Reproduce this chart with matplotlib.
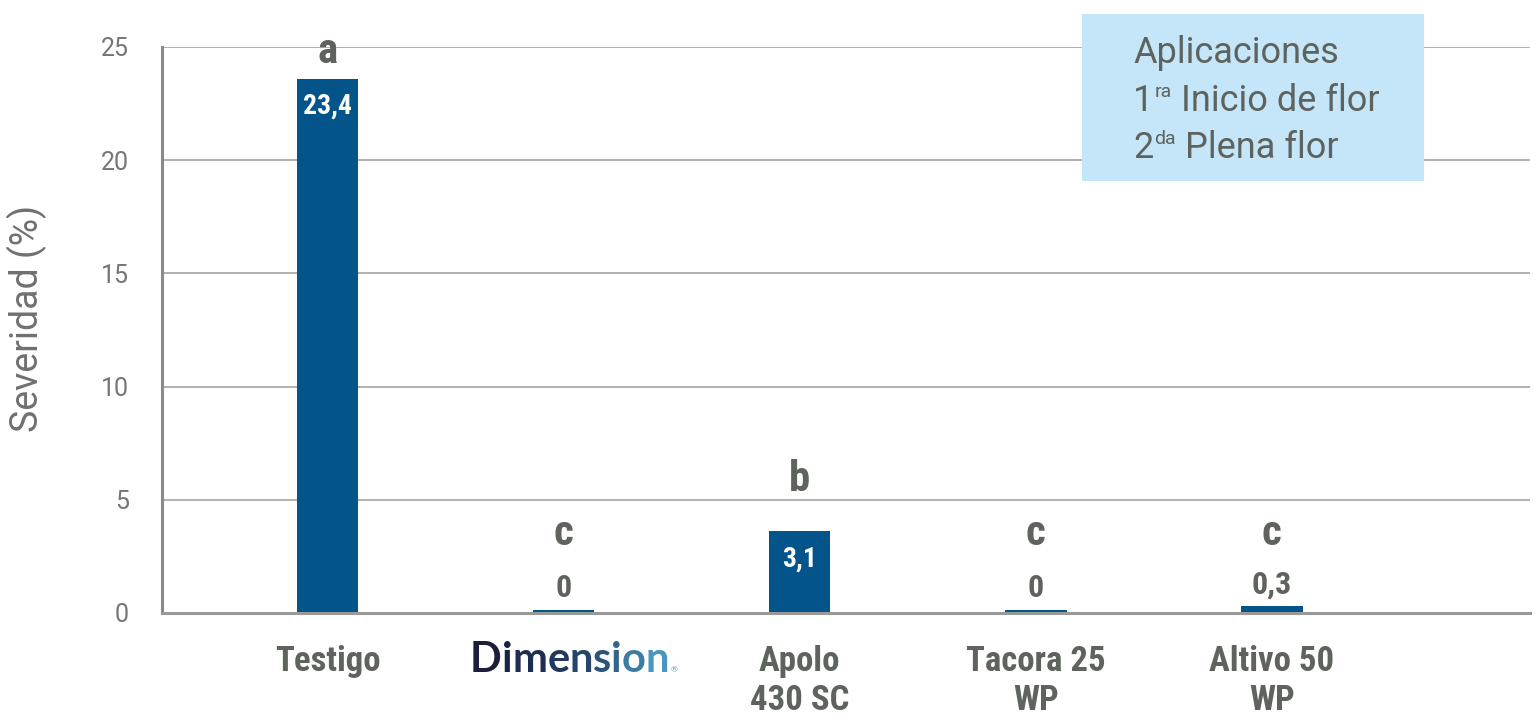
import matplotlib
matplotlib.use("Agg")
import matplotlib.pyplot as plt
import numpy as np
from matplotlib.patches import Rectangle

# ---------------- data ----------------
categories = ["Testigo", "Dimension", "Apolo\n430 SC", "Tacora 25\nWP", "Altivo 50\nWP"]
bar_heights = [23.6, 0.15, 3.6, 0.15, 0.3]          # bar heights as drawn
value_labels = ["23,4", "0", "3,1", "0", "0,3"]
letters = ["a", "c", "b", "c", "c"]
y_ticks = [0, 5, 10, 15, 20, 25]
y_label = "Severidad (%)"
legend_title = "Aplicaciones"
legend_lines = [("1", "ra", " Inicio de flor"), ("2", "da", " Plena flor")]

# ---------------- style ----------------
W, H = 1535, 719
BAR = "#02548A"
TXT = "#5E635E"
TICK = "#767676"
GRID = "#AAAAAA"
COND = ["Liberation Sans Narrow", "Roboto Condensed", "Liberation Sans", "DejaVu Sans"]
LIGHT = ["Roboto", "DejaVu Sans"]
LW = "normal"

fig = plt.figure(figsize=(W / 100, H / 100), dpi=100)
ax = fig.add_axes([162 / W, 1 - 613 / H, (1530 - 162) / W, (613 - 47) / H])

x = np.arange(len(categories))
ax.bar(x, bar_heights, width=0.26, color=BAR, zorder=3)
ax.set_xlim(-0.701, 5.093)
ax.set_ylim(0, 25)

ax.set_yticks(y_ticks)
ax.set_yticklabels([str(t) for t in y_ticks], family=LIGHT, fontweight="normal",
                   fontsize=18, color=TICK)
ax.yaxis.grid(True, color=GRID, lw=1.3, zorder=0)
ax.set_axisbelow(True)
ax.tick_params(axis="y", length=0, pad=24)
ax.tick_params(axis="x", length=0, pad=23)
for s in ["top", "right"]:
    ax.spines[s].set_visible(False)
ax.spines["left"].set_color("#8A8A8A")
ax.spines["left"].set_linewidth(2.2)
ax.spines["bottom"].set_color("#999999")
ax.spines["bottom"].set_linewidth(2.2)
ax.spines["bottom"].set_zorder(4)

ax.set_xticks(x)
ax.set_xticklabels(categories, family=COND, fontweight="bold", fontsize=25,
                   color=TXT, linespacing=1.25, va="top")

fig.text(27 / W, 1 - 318 / H, y_label, rotation=90, ha="center", va="center",
         family=LIGHT, fontweight="normal", fontsize=27, color="#707070")

# value labels
for xi, h, lab in zip(x, bar_heights, value_labels):
    if h > 2:
        ax.annotate(lab, (xi, h), xytext=(0, -10), textcoords="offset points",
                    ha="center", va="top", family=COND, fontweight="bold",
                    fontsize=20, color="white", zorder=5)
    else:
        ax.annotate(lab, (xi, h), xytext=(0, 9), textcoords="offset points",
                    ha="center", va="baseline", family=COND, fontweight="bold",
                    fontsize=23, color=TXT, zorder=5)

# significance letters (baseline heights in data units)
letter_base = [24.3, 3.0, 5.4, 3.0, 3.0]
for xi, yb, l in zip(x, letter_base, letters):
    ax.text(xi, yb, l, ha="center", va="baseline", family=COND, fontweight="bold",
            fontsize=31, color=TXT, clip_on=False, zorder=5)

# legend box
fig.patches.append(Rectangle((1082 / W, 1 - 181 / H), (1424 - 1082) / W, (181 - 14) / H,
                             transform=fig.transFigure, facecolor="#C5E5F8",
                             edgecolor="none", zorder=10))
fig.text(1133 / W, 1 - 63 / H, legend_title, family=LIGHT, fontweight=LW,
         fontsize=26, color=TXT, va="baseline", zorder=11)

fig.canvas.draw()
r = fig.canvas.get_renderer()
for i, (num, sup, rest) in enumerate(legend_lines):
    yb = 1 - (111 + 47 * i) / H
    t1 = fig.text(1133 / W, yb, num, family=LIGHT, fontweight=LW, fontsize=26,
                  color=TXT, va="baseline", zorder=11)
    bb = t1.get_window_extent(r)
    t2 = fig.text((bb.x1 + 1) / W, yb + 14 / H, sup, family=LIGHT, fontweight=LW,
                  fontsize=14, color=TXT, va="baseline", zorder=11)
    bb2 = t2.get_window_extent(r)
    fig.text(bb2.x1 / W, yb, rest, family=LIGHT, fontweight=LW, fontsize=26,
             color=TXT, va="baseline", zorder=11)

# Dimension logo-like gradient label
tl = ax.get_xticklabels()[1]
bbt = tl.get_window_extent(r)
tl.set_visible(False)
word = "Dimension"
grad = ["#1B1E3C", "#1C2445", "#1F2D52", "#22395F", "#26456C",
        "#2B5479", "#32658A", "#3D7DA3", "#4A96BE"]
FS = 30
tmp = fig.text(0, 0, word, family=["Lato", "DejaVu Sans"], fontweight="bold", fontsize=FS)
wbb = tmp.get_window_extent(r)
tmp.remove()
cx = (bbt.x0 + bbt.x1) / 2 + 6
xcur = cx - wbb.width / 2
ybase = 1 - 672 / H
for ch, col in zip(word, grad):
    t = fig.text(xcur / W, ybase, ch, family=["Lato", "DejaVu Sans"], fontweight="bold",
                 fontsize=FS, color=col, va="baseline")
    xcur = t.get_window_extent(r).x1
fig.text((xcur + 1) / W, ybase, "®", family=["Lato", "DejaVu Sans"], fontsize=6,
         color="#4A9CC0", va="baseline")

fig.savefig("out.png", dpi=100)
